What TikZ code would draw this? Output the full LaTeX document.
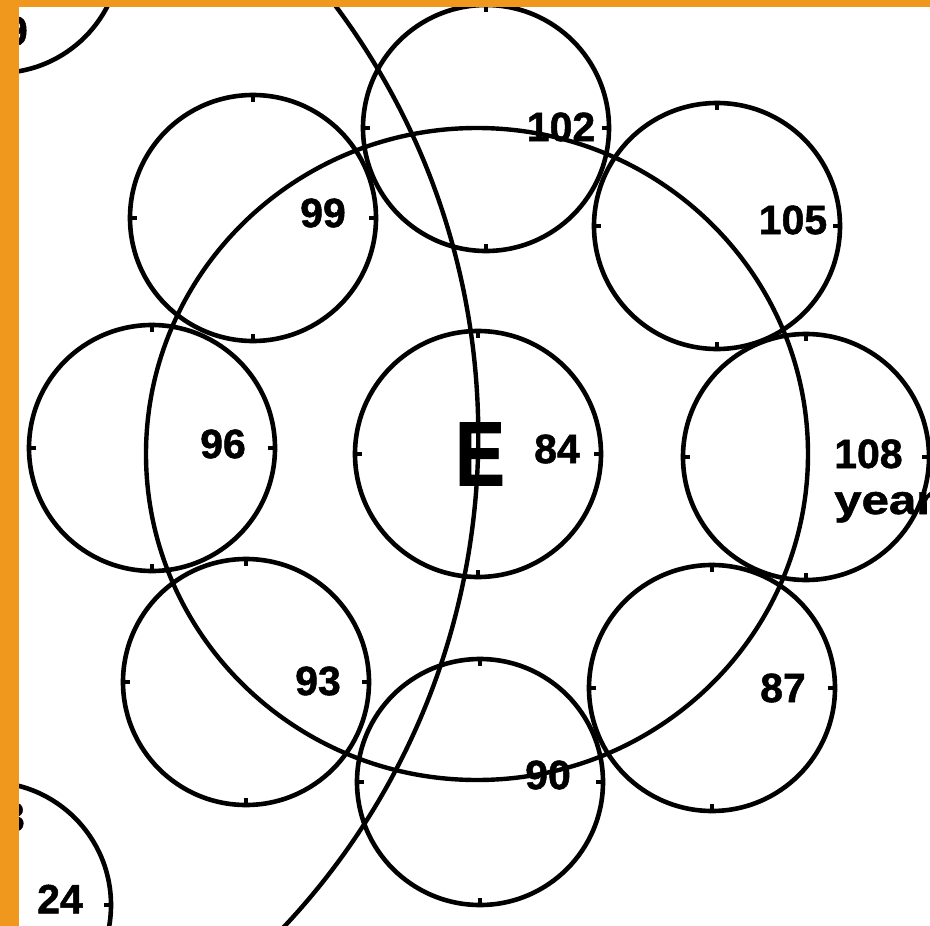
\documentclass[tikz,border=0pt]{standalone}
\usepackage{fontspec}
\setmainfont{Liberation Sans}
\newfontfamily\heavyfont[FakeBold=1.2]{Liberation Sans Bold}
\definecolor{orangeb}{RGB}{240,152,30}
\begin{document}
\begin{tikzpicture}[x=1pt,y=-1pt,
  ring/.style={circle, draw, line width=4.6pt, minimum size=246pt, inner sep=0pt},
  tickmark/.style={line width=3.4pt},
  bigline/.style={line width=4.4pt},
  lbl/.style={font=\fontsize{41}{41}\selectfont\heavyfont, inner sep=0pt},
]
\useasboundingbox (0,0) rectangle (930,926);
\clip (0,0) rectangle (930,926);
\fill[white] (0,0) rectangle (930,926);
% ring of circles
\foreach \n/\x/\y in {c102/486/128, c105/717/226, c108/806/457, c87/712/688, c90/480/782, c93/246/682, c96/152/448, c99/253/218, cE/478/454, ctl/-2/-50, cbl/-12/905}{
  \node[ring] (\n) at (\x,\y) {};
  \draw[tickmark] (\n.north) -- ++(0pt,-9pt);
  \draw[tickmark] (\n.south) -- ++(0pt,9pt);
  \draw[tickmark] (\n.east) -- ++(-9pt,0pt);
  \draw[tickmark] (\n.west) -- ++(9pt,0pt);
}
% big orbit ellipse
\draw[bigline] (477,454) ellipse [x radius=331pt, y radius=326pt];
% big sweeping arc
\draw[bigline] (-239.7,435.6) ++(40:718pt) arc[start angle=40, end angle=-46, radius=718pt];
% labels
\node[lbl] (t102) at (561,127) {102};
\node[lbl] (t99) at (323,213) {99};
\node[lbl] (t105) at (793,220) {105};
\node[lbl] (t96) at (223,444) {96};
\node[lbl] (t84) at (557,449) {84};
\node[lbl,anchor=base west] (t108) at (834,468) {108};
\node[lbl,anchor=base west,xscale=1.2] (tyears) at (834,514) {years};
\node[lbl] (t93) at (318,681) {93};
\node[lbl] (t87) at (783,688) {87};
\node[lbl] (t90) at (548,775) {90};
\node[lbl] (t24) at (60,899) {24};
\node[lbl,anchor=east] (t9) at (28,31) {9};
\node[lbl,anchor=east] (t3) at (25,817) {3};
\node[font=\fontsize{91}{91}\selectfont\heavyfont, xscale=0.82, inner sep=0pt] (tE) at (480,454) {E};
% orange frame
\fill[orangeb] (0,0) rectangle (930,7);
\fill[orangeb] (0,0) rectangle (19,926);
\end{tikzpicture}
\end{document}
